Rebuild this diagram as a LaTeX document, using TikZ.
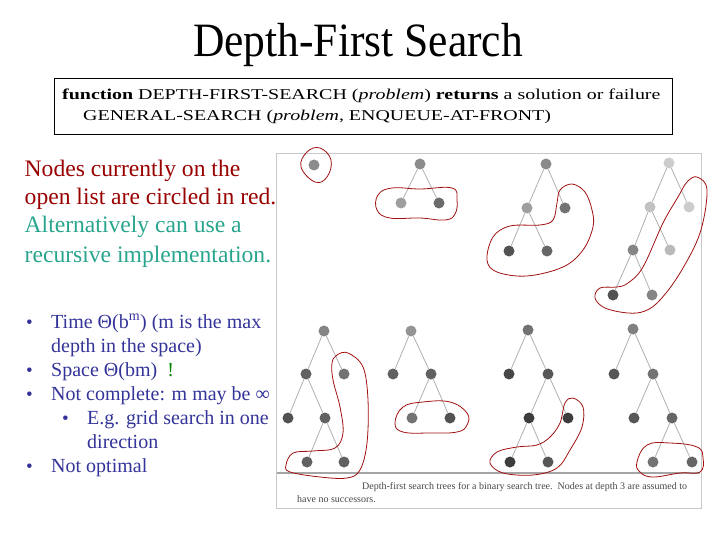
\documentclass[tikz,border=0pt]{standalone}
\usepackage{fontspec}
\setmainfont{Liberation Serif}
\definecolor{redtxt}{RGB}{153,0,0}
\definecolor{tealtxt}{RGB}{40,165,140}
\definecolor{navy}{RGB}{51,51,153}
\definecolor{excl}{RGB}{0,130,0}
\definecolor{loopred}{RGB}{160,16,16}
\definecolor{edgegray}{RGB}{175,175,175}
\definecolor{framegray}{RGB}{200,200,200}
\definecolor{rulegray}{RGB}{165,165,165}
\definecolor{captgray}{RGB}{70,70,70}
\tikzset{
  txt/.style={inner sep=0pt, anchor=base west},
  tn/.style={circle, minimum size=11pt, inner sep=0pt, fill=#1},
  tedge/.style={draw=edgegray, line width=0.8pt},
  openloop/.style={draw=loopred, line width=0.8pt},
  bul/.style={txt, text=navy, font=\fontsize{20}{24}\selectfont},
  bdot/.style={txt, text=navy, font=\fontsize{19}{24}\selectfont},
}
\begin{document}
\begin{tikzpicture}[x=1pt,y=-1pt]
\useasboundingbox (0,0) rectangle (720,540);
% title
\node[inner sep=0pt, anchor=base] (title) at (358,57) {\scalebox{1}[1.1]{\fontsize{43.5}{50}\selectfont Depth-First Search}};
% function box
\node[draw, line width=0.8pt, minimum width=618pt, minimum height=56pt, anchor=north west, inner sep=0pt] (box) at (54,78) {};
\node[txt] (f1) at (62,100) {\scalebox{1.33}[1]{\fontsize{15}{18}\selectfont \textbf{function} DEPTH-FIRST-SEARCH (\textit{problem}) \textbf{returns} a solution or failure}};
\node[txt] (f2) at (83,121) {\scalebox{1.33}[1]{\fontsize{15}{18}\selectfont GENERAL-SEARCH (\textit{problem}, ENQUEUE-AT-FRONT)}};
% left notes
\node[txt, text=redtxt, font=\fontsize{23.6}{28}\selectfont] (n1) at (24.5,177) {Nodes currently on the};
\node[txt, text=redtxt, font=\fontsize{23.6}{28}\selectfont] (n2) at (24.5,205) {open list are circled in red.};
\node[txt, text=tealtxt, font=\fontsize{23.6}{28}\selectfont] (n3) at (24.5,233) {Alternatively can use a};
\node[txt, text=tealtxt, font=\fontsize{23.6}{28}\selectfont] (n4) at (24.5,262) {recursive implementation.};
% bullets
\node[bdot] (b1) at (26,328) {•};
\node[bul] (l1) at (51,328) {Time Θ(b\textsuperscript{m}) (m is the max};
\node[bul] (l2) at (51,352) {depth in the space)};
\node[bdot] (b3) at (26,376) {•};
\node[bul] (l3) at (51,376) {Space Θ(bm)\ \ \textcolor{excl}{!}};
\node[bdot] (b4) at (26,400) {•};
\node[bul] (l4) at (51,400) {Not complete: m may be ∞};
\node[bdot] (b5) at (62,424) {•};
\node[bul] (l5) at (87,424) {E.g. grid search in one};
\node[bul] (l6) at (87,448) {direction};
\node[bdot] (b7) at (26,472) {•};
\node[bul] (l7) at (51,472) {Not optimal};
% figure frame
\node[draw=framegray, line width=0.8pt, minimum width=425pt, minimum height=355pt, anchor=north west, inner sep=0pt] (frame) at (276,153) {};
\draw[rulegray, line width=2pt] (277,473) -- (700,473);
\node[txt, text=captgray, font=\fontsize{10}{12}\selectfont] (c1) at (362,489) {Depth-first search trees for a binary search tree.\ \ Nodes at depth 3 are assumed to};
\node[txt, text=captgray, font=\fontsize{10}{12}\selectfont] (c2) at (297,502) {have no successors.};
% ---------- tree nodes, top row
\node[tn=black!45] (t1r) at (314,165) {};
\node[tn=black!45] (t2r) at (420,164) {};
\node[tn=black!38] (t2a) at (401,203) {};
\node[tn=black!58] (t2b) at (439,203) {};
\node[tn=black!46] (t3r) at (546,164) {};
\node[tn=black!38] (t3a) at (527,208) {};
\node[tn=black!55] (t3b) at (565,208) {};
\node[tn=black!68] (t3c) at (509,251) {};
\node[tn=black!60] (t3d) at (547,251) {};
\node[tn=black!20] (t4r) at (669,163) {};
\node[tn=black!24] (t4a) at (650,207) {};
\node[tn=black!20] (t4b) at (689,207) {};
\node[tn=black!48] (t4c) at (633,250) {};
\node[tn=black!27] (t4d) at (670,250) {};
\node[tn=black!68] (t4e) at (613,295) {};
\node[tn=black!48] (t4f) at (652,295) {};
% bottom row
\node[tn=black!48] (t5r) at (324,331) {};
\node[tn=black!62] (t5a) at (306,374) {};
\node[tn=black!55] (t5b) at (344,374) {};
\node[tn=black!68] (t5c) at (288,418) {};
\node[tn=black!62] (t5d) at (325,418) {};
\node[tn=black!62] (t5e) at (307,462) {};
\node[tn=black!62] (t5f) at (344,462) {};
\node[tn=black!42] (t6r) at (411,331) {};
\node[tn=black!62] (t6a) at (393,374) {};
\node[tn=black!62] (t6b) at (431,374) {};
\node[tn=black!55] (t6c) at (412,418) {};
\node[tn=black!68] (t6d) at (450,418) {};
\node[tn=black!55] (t7r) at (528,330) {};
\node[tn=black!72] (t7a) at (509,374) {};
\node[tn=black!66] (t7b) at (548,374) {};
\node[tn=black!76] (t7c) at (529,418) {};
\node[tn=black!76] (t7d) at (568,418) {};
\node[tn=black!76] (t7e) at (510,462) {};
\node[tn=black!66] (t7f) at (548,462) {};
\node[tn=black!50] (t8r) at (633,329) {};
\node[tn=black!66] (t8a) at (614,374) {};
\node[tn=black!55] (t8b) at (653,374) {};
\node[tn=black!66] (t8c) at (634,418) {};
\node[tn=black!60] (t8d) at (672,418) {};
\node[tn=black!55] (t8e) at (653,462) {};
\node[tn=black!60] (t8f) at (692,462) {};
% edges
\draw[tedge] (t2r) -- (t2a) (t2r) -- (t2b);
\draw[tedge] (t3r) -- (t3a) (t3r) -- (t3b) (t3a) -- (t3c) (t3a) -- (t3d);
\draw[tedge] (t4r) -- (t4a) (t4r) -- (t4b) (t4a) -- (t4c) (t4a) -- (t4d) (t4c) -- (t4e) (t4c) -- (t4f);
\draw[tedge] (t5r) -- (t5a) (t5r) -- (t5b) (t5a) -- (t5c) (t5a) -- (t5d) (t5d) -- (t5e) (t5d) -- (t5f);
\draw[tedge] (t6r) -- (t6a) (t6r) -- (t6b) (t6b) -- (t6c) (t6b) -- (t6d);
\draw[tedge] (t7r) -- (t7a) (t7r) -- (t7b) (t7b) -- (t7c) (t7b) -- (t7d) (t7c) -- (t7e) (t7c) -- (t7f);
\draw[tedge] (t8r) -- (t8a) (t8r) -- (t8b) (t8b) -- (t8c) (t8b) -- (t8d) (t8d) -- (t8e) (t8d) -- (t8f);
% open-list loops
\draw[openloop] plot[smooth cycle, tension=0.7] coordinates {(320,148) (331,160) (327,177) (315,182) (301,167) (307,152)};
\draw[openloop] plot[smooth cycle, tension=0.7] coordinates {(378,195) (392,188) (420,189) (452,188) (457,200) (455,214) (445,220) (420,218) (390,218) (377,210)};
\draw[openloop] plot[smooth cycle, tension=0.6] coordinates {(560,190) (572,184) (585,192) (592,210) (593,227) (583,250) (563,267) (527,276) (497,272) (487,260) (493,237) (510,226) (540,225) (553,220) (557,203)};
\draw[openloop] plot[smooth cycle, tension=0.6] coordinates {(687,182) (697,177) (707,190) (700,233) (680,273) (660,300) (645,311) (628,313) (605,308) (595,298) (600,288) (617,287) (628,283) (643,267) (663,223) (678,197)};
\draw[openloop] plot[smooth cycle, tension=0.6] coordinates {(337,355) (348,353) (363,367) (368,400) (367,443) (360,470) (347,478) (320,477) (290,472) (286,465) (293,453) (313,451) (335,448) (343,433) (340,407) (333,380) (332,363)};
\draw[openloop] plot[smooth cycle, tension=0.7] coordinates {(395,423) (403,407) (423,402) (450,402) (467,413) (467,425) (457,432) (430,433) (403,432)};
\draw[openloop] plot[smooth cycle, tension=0.6] coordinates {(565,403) (573,398) (583,407) (582,427) (570,450) (557,468) (533,475) (503,473) (490,463) (497,452) (517,447) (537,445) (550,437) (560,423)};
\draw[openloop] plot[smooth cycle, tension=0.7] coordinates {(637,462) (647,445) (670,443) (697,447) (703,458) (700,472) (680,473) (653,477) (640,472)};
\end{tikzpicture}
\end{document}
